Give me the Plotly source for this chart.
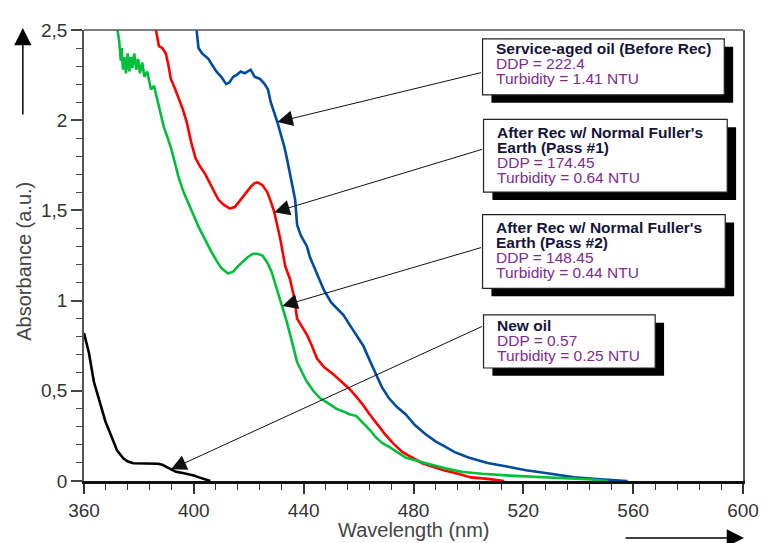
import numpy as np
import plotly.graph_objects as go

# ---------------- data ----------------
wl_blue = [401, 401.7, 403, 405.3, 406.5, 408.2, 410, 411.8, 413, 414.3, 415.5, 417.1, 418.5, 420.7,
           422.2, 424, 425.8, 427, 428, 429.2, 430.4, 431.7, 433, 434, 435.1, 436, 436.9, 437.6, 439,
           441.2, 442.3, 443.7, 445.5, 447.3, 450, 452, 454.5, 457, 459.5, 461.7, 464, 466.4, 468.5,
           471, 474, 477.1, 480.5, 484.3, 488, 491.5, 495, 500, 507, 514, 521, 530, 538.6, 548, 558]
abs_blue = [2.5, 2.40, 2.37, 2.34, 2.31, 2.27, 2.24, 2.20, 2.21, 2.24, 2.25, 2.27, 2.26, 2.28,
            2.24, 2.23, 2.20, 2.17, 2.10, 2.05, 1.99, 1.92, 1.85, 1.78, 1.70, 1.63, 1.56, 1.42, 1.36,
            1.30, 1.24, 1.19, 1.12, 1.06, 0.99, 0.96, 0.92, 0.86, 0.80, 0.75, 0.67, 0.59, 0.52,
            0.46, 0.41, 0.37, 0.31, 0.26, 0.22, 0.19, 0.16, 0.13, 0.10, 0.08, 0.06, 0.04, 0.02, 0.01, 0.0]

wl_red = [386.2, 387.3, 388.5, 389.8, 390.8, 391.6, 393, 394.5, 396, 397.4, 399, 400.6, 402.4, 404.2,
          406.5, 408.9, 411, 413.2, 415, 417.1, 419, 420.7, 422, 423.2, 425, 426.8, 428, 429.3, 431.5,
          433.3, 435, 436.5, 437.6, 439.5, 441.2, 443, 444.8, 447.5, 450.9, 453.8, 456.7, 459, 461.7,
          464, 466.4, 469.6, 472.5, 476, 479.6, 483, 486.8, 491, 496.2, 501, 507, 513]
abs_red = [2.5, 2.41, 2.40, 2.37, 2.30, 2.23, 2.18, 2.12, 2.06, 1.99, 1.88, 1.79, 1.74, 1.70,
           1.63, 1.56, 1.53, 1.51, 1.52, 1.56, 1.60, 1.63, 1.65, 1.655, 1.64, 1.60, 1.55, 1.49, 1.34,
           1.19, 1.12, 1.02, 0.90, 0.85, 0.81, 0.75, 0.68, 0.63, 0.59, 0.55, 0.51, 0.47, 0.42,
           0.37, 0.32, 0.26, 0.21, 0.16, 0.13, 0.10, 0.08, 0.06, 0.04, 0.02, 0.012, 0.0]

wl_green = [372.2, 372.8, 373.4, 373.7, 374.2, 374.7, 375.3, 375.9, 376.5, 377.1, 377.6, 378.3, 379,
            379.7, 380.4, 381.2, 382, 383, 384.4, 385.5, 386.6, 388, 389.1, 390.3, 391.6, 393, 394.5,
            396.3, 398.1, 400, 401.7, 404, 406.4, 408.3, 410, 412.5, 414.3, 416, 418, 419.6, 421.5,
            423.2, 425, 426.8, 428.3, 429.7, 431, 432.2, 433.7, 435.1, 436.5, 437.6, 439.5, 441.2,
            443.5, 445.9, 449, 452, 454.5, 456.7, 459.2, 461.7, 464.3, 466.4, 468.7, 471, 474, 477.1,
            480.5, 484.3, 488, 491.5, 498, 505, 515, 524.6, 535, 545, 551]
abs_green = [2.5, 2.44, 2.33, 2.40, 2.28, 2.35, 2.26, 2.37, 2.27, 2.35, 2.29, 2.37, 2.28,
             2.34, 2.26, 2.32, 2.24, 2.27, 2.17, 2.19, 2.12, 2.03, 1.96, 1.91, 1.85, 1.77, 1.68,
             1.60, 1.54, 1.47, 1.41, 1.34, 1.27, 1.22, 1.18, 1.15, 1.16, 1.19, 1.22, 1.24, 1.26,
             1.26, 1.25, 1.21, 1.16, 1.09, 1.03, 0.97, 0.89, 0.81, 0.72, 0.66, 0.60, 0.55,
             0.50, 0.46, 0.43, 0.40, 0.385, 0.37, 0.36, 0.32, 0.28, 0.24, 0.21, 0.19, 0.16, 0.13,
             0.115, 0.10, 0.085, 0.07, 0.05, 0.04, 0.03, 0.024, 0.015, 0.008, 0.0]

wl_black = [360, 361.8, 363.6, 365.4, 367.8, 370.2, 372, 374.4, 376, 378, 382.7, 387, 388.5, 390,
            391.7, 393.5, 396, 398.3, 400, 401.9, 403.5, 405, 406]
abs_black = [0.82, 0.71, 0.55, 0.46, 0.33, 0.24, 0.17, 0.125, 0.108, 0.098, 0.096, 0.096, 0.09, 0.078,
             0.065, 0.051, 0.044, 0.038, 0.030, 0.020, 0.012, 0.004, 0.0]

series_names = ["Service-aged oil (Before Rec)", "After Rec (Pass #1)", "After Rec (Pass #2)", "New oil"]
series_colors = ["#004C9E", "#FF0000", "#00BF3A", "#000000"]

box_titles = [["Service-aged oil (Before Rec)"],
              ["After Rec w/ Normal Fuller's", "Earth (Pass #1)"],
              ["After Rec w/ Normal Fuller's", "Earth (Pass #2)"],
              ["New oil"]]
ddp_values = ["222.4", "174.45", "148.45", "0.57"]
turbidity_values = ["1.41", "0.64", "0.44", "0.25"]
arrow_tip_wl = [430.4, 429.3, 432.2, 391.7]

x_ticks = [360, 400, 440, 480, 520, 560, 600]

# ---------------- layout geometry (page pixels) ----------------
PAGE_W, PAGE_H = 771, 543
OFF = 8  # default body margin of the html page
PX0, PX1, PY0, PY1 = 84, 752, 481, 22
XMIN, XMAX, YMIN, YMAX = 360, 600, 0, 2.5

def pxx(px):  # page pixel -> paper x
    return (px - PX0) / (PX1 - PX0)

def pxy(py):  # page pixel -> paper y
    return (PY0 - py) / (PY0 - PY1)

def data_x(px):
    return XMIN + (px - PX0) / (PX1 - PX0) * (XMAX - XMIN)

def data_y(py):
    return YMIN + (PY0 - py) / (PY0 - PY1) * (YMAX - YMIN)

boxes = [(488, 31, 733, 88), (489, 113, 736, 187), (488, 210, 734, 285), (489, 312, 663, 366)]
first_line = [41.0, 127.0, 223.5, 322.5]
line_gap = 15.0
text_pad = 13
text_size = 15.5
arrow_tails = [(488, 65), (489, 143), (488, 243), (489, 323)]

FONT = "Liberation Sans, Arial, sans-serif"
TITLE_COL = "#14143a"
DDP_COL = "#7F2A8F"

fig = go.Figure()
series = [(wl_blue, abs_blue), (wl_red, abs_red), (wl_green, abs_green), (wl_black, abs_black)]
for (xs, ys), name, col in zip(series, series_names, series_colors):
    fig.add_trace(go.Scatter(x=xs, y=ys, mode="lines", name=name,
                             line=dict(color=col, width=2.6), showlegend=False,
                             hoverinfo="skip"))

shapes = []
annotations = []
for i, (x0, y0, x1, y1) in enumerate(boxes):
    shapes.append(dict(type="rect", xref="paper", yref="paper",
                       x0=pxx(x0 + 9), x1=pxx(x1 + 9), y0=pxy(y1 + 8), y1=pxy(y0 + 8),
                       fillcolor="black", line=dict(width=0), layer="above"))
    shapes.append(dict(type="rect", xref="paper", yref="paper",
                       x0=pxx(x0), x1=pxx(x1), y0=pxy(y1), y1=pxy(y0),
                       fillcolor="white", line=dict(color="#222", width=1.2), layer="above"))
    parts = []
    for t in box_titles[i]:
        parts.append('<span style="font-size:%spx;color:%s"><b>%s</b></span>' % (text_size, TITLE_COL, t))
    parts.append('<span style="font-size:%spx;color:%s">DDP = %s</span>' % (text_size, DDP_COL, ddp_values[i]))
    parts.append('<span style="font-size:%spx;color:%s">Turbidity = %s NTU</span>'
                 % (text_size, DDP_COL, turbidity_values[i]))
    n = len(parts)
    mid = first_line[i] + (n - 1) * line_gap / 2
    annotations.append(dict(
        xref="paper", yref="paper", x=pxx(x0 + text_pad), y=pxy(mid),
        xanchor="left", yanchor="middle", showarrow=False, borderpad=0, align="left",
        text="<br>".join(parts),
        font=dict(family=FONT, size=line_gap / 1.3, color=TITLE_COL)))

for i, (xs, ys) in enumerate(series):
    tip_x = arrow_tip_wl[i]
    tip_y = float(np.interp(tip_x, xs, ys))
    tx, ty = arrow_tails[i]
    annotations.append(dict(x=tip_x, y=tip_y, xref="x", yref="y",
                            ax=data_x(tx), ay=data_y(ty), axref="x", ayref="y",
                            text="", showarrow=True, arrowhead=2, arrowsize=3.1,
                            arrowwidth=1, arrowcolor="#111", standoff=0, startstandoff=0))

annotations.append(dict(x=pxx(22), y=pxy(20), xref="paper", yref="paper", ax=0, ay=88,
                        text="", showarrow=True, arrowhead=2, arrowsize=2.3, arrowwidth=1.5,
                        arrowcolor="black", standoff=0))
annotations.append(dict(x=pxx(753), y=pxy(539), xref="paper", yref="paper", ax=-120, ay=0,
                        text="", showarrow=True, arrowhead=2, arrowsize=2.3, arrowwidth=1.5,
                        arrowcolor="black", standoff=0))

annotations.append(dict(x=pxx(418), y=pxy(531), xref="paper", yref="paper", showarrow=False,
                        text="Wavelength (nm)", xanchor="center", yanchor="middle",
                        font=dict(family=FONT, size=20, color="#444")))
annotations.append(dict(x=pxx(23), y=pxy(257), xref="paper", yref="paper", showarrow=False,
                        text="Absorbance (a.u.)", textangle=-90, xanchor="center", yanchor="middle",
                        font=dict(family=FONT, size=20, color="#444")))

fig.update_layout(
    width=PAGE_W - OFF, height=PAGE_H - OFF,
    margin=dict(l=PX0 - OFF, r=PAGE_W - PX1, t=PY1 - OFF, b=PAGE_H - PY0),
    paper_bgcolor="white", plot_bgcolor="white",
    separators=",.",
    font=dict(family=FONT, size=19, color="#333"),
    shapes=shapes, annotations=annotations,
    xaxis=dict(range=[XMIN, XMAX], tickvals=x_ticks, ticks="outside", ticklen=10, tickwidth=1.5,
               tickcolor="#333", showgrid=False, zeroline=False, showline=True, linecolor="#111",
               linewidth=2.5, mirror=False,
               minor=dict(dtick=8, ticks="outside", ticklen=6, tickwidth=1.2, tickcolor="#333",
                          showgrid=False),
               tickfont=dict(family=FONT, size=19, color="#333")),
    yaxis=dict(range=[YMIN, YMAX], dtick=0.5, ticks="outside", ticklen=11, tickwidth=1.5,
               tickcolor="#444", showgrid=False, zeroline=False, showline=True, linecolor="#555",
               linewidth=1.5, mirror=True,
               minor=dict(dtick=0.1, ticks="outside", ticklen=6, tickwidth=1.2, tickcolor="#444",
                          showgrid=False),
               tickfont=dict(family=FONT, size=19, color="#333")),
)
fig.add_shape(type="line", xref="paper", yref="paper", x0=0, x1=1, y0=1, y1=1,
              line=dict(color="#555", width=1.5))

fig.write_html("out.html")
